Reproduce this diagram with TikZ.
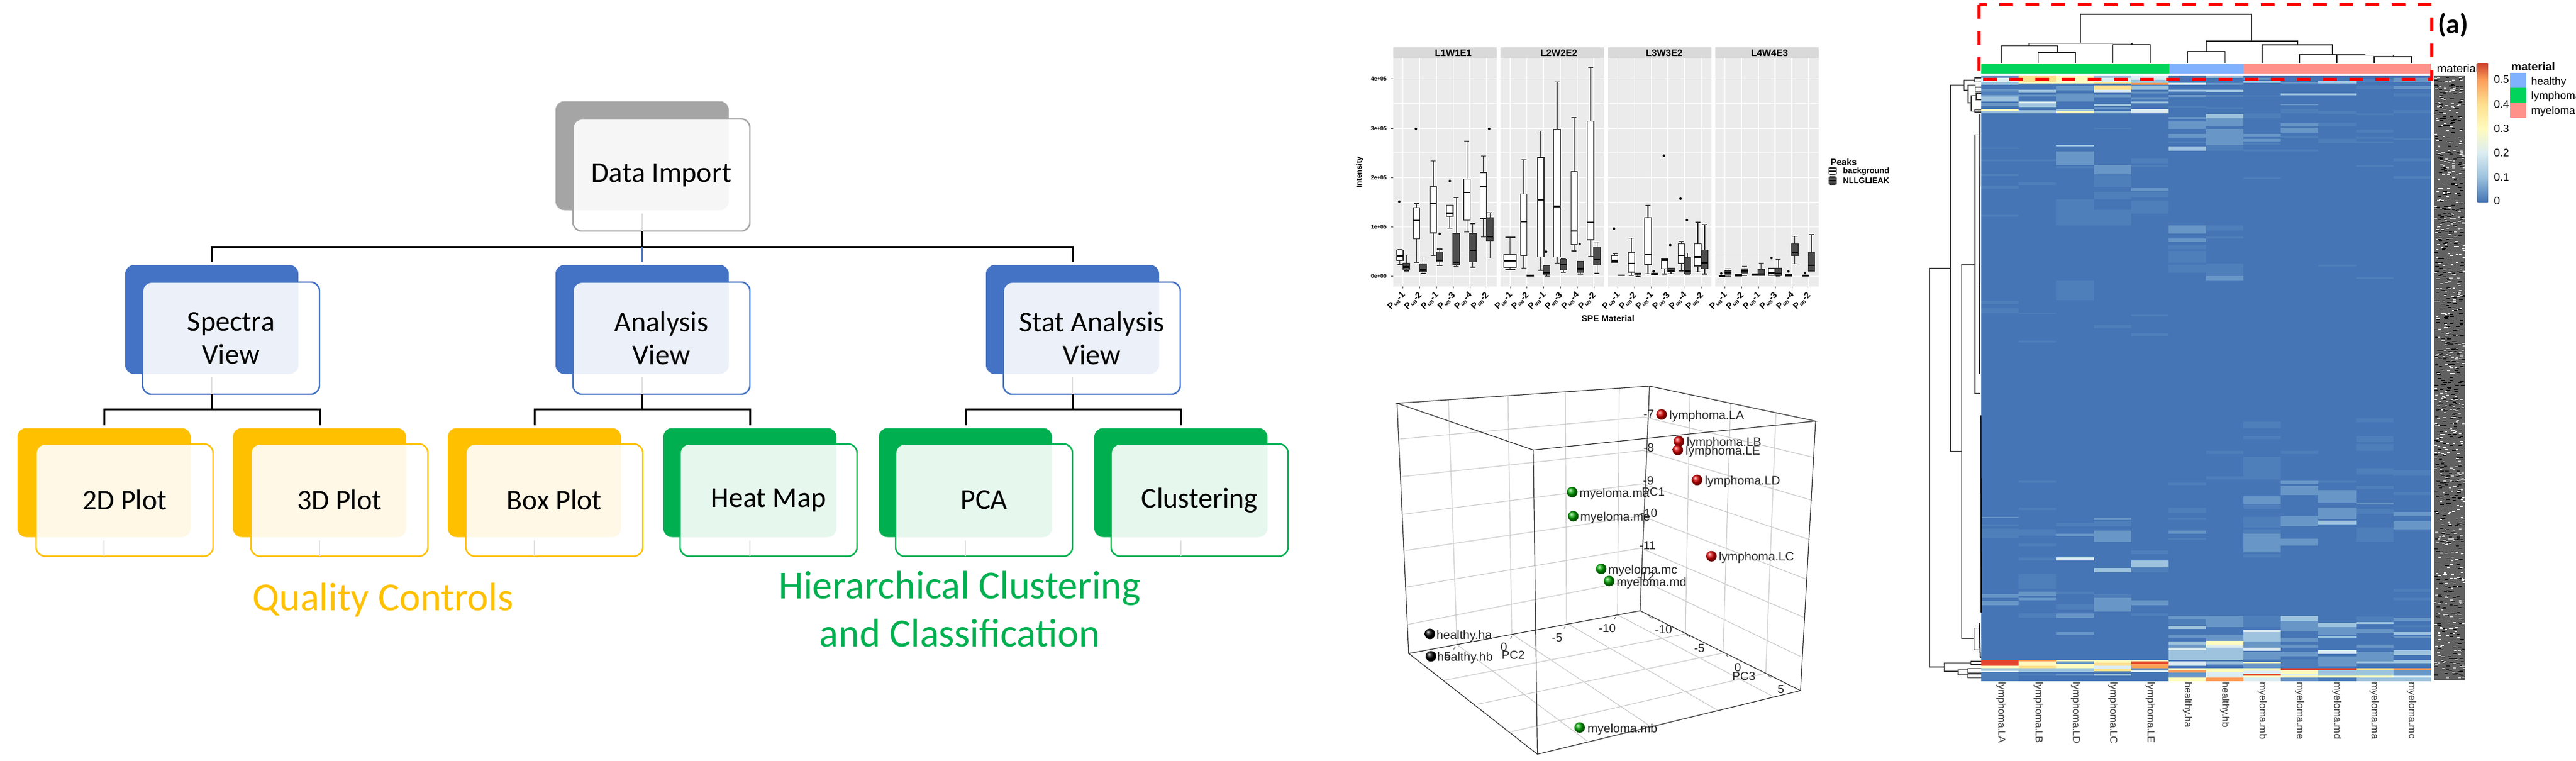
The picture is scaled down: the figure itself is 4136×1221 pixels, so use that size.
\documentclass[tikz,border=0pt]{standalone}
\usepackage{fontspec}
\setmainfont{Carlito}
\newfontfamily\plotfont{Liberation Sans}
\usetikzlibrary{calc,positioning}

\definecolor{boxgrey}{HTML}{A5A5A5}
\definecolor{boxblue}{HTML}{4472C4}
\definecolor{boxgold}{HTML}{FFC000}
\definecolor{boxgreen}{HTML}{00B050}
\definecolor{panelgrey}{HTML}{EBEBEB}
\definecolor{stripgrey}{HTML}{D9D9D9}
\definecolor{darkbox}{HTML}{4D4D4D}
\definecolor{hz}{HTML}{4575B5}
\definecolor{ha}{HTML}{4F7FBA}
\definecolor{hb}{HTML}{6896C6}
\definecolor{hc}{HTML}{9DC3DE}
\definecolor{hd}{HTML}{DCEDF2}
\definecolor{he}{HTML}{FFFBBE}
\definecolor{hf}{HTML}{FEE08F}
\definecolor{hg}{HTML}{FC9D59}
\definecolor{hh}{HTML}{E4452F}
\definecolor{barblue}{HTML}{80B1FF}
\definecolor{bargreen}{HTML}{00D45A}
\definecolor{barred}{HTML}{FF918A}

\tikzset{
    backbox/.style={rectangle, rounded corners=7pt, minimum width=139pt, minimum height=87.5pt, inner sep=0pt, outer sep=0pt},
    frontbox/.style={rectangle, rounded corners=7pt, minimum width=142pt, minimum height=90pt, inner sep=0pt, outer sep=0pt,
        draw=#1, line width=1.2pt, fill=white, fill opacity=.9, text opacity=1, align=center, text=black,
        font=\fontsize{23}{26.5}\selectfont},
    wire/.style={line width=1.5pt, black},
    innerstem/.style={line width=1pt, black!12},
    whitepeak/.style={fill=white},
    darkpeak/.style={fill=darkbox},
    ploty/.style={font=\plotfont\bfseries\fontsize{4.5}{5}\selectfont, anchor=east},
    plotx/.style={font=\plotfont\bfseries\fontsize{7}{8}\selectfont, rotate=45, anchor=east},
    strip/.style={font=\plotfont\bfseries\fontsize{7.6}{8}\selectfont},
    sphere/.style={circle, minimum size=8.5pt, inner sep=0pt},
    ptlabel/.style={font=\plotfont\fontsize{9.8}{10}\selectfont, text=black!85, anchor=west, inner sep=0pt},
    axlabel/.style={font=\plotfont\fontsize{9.5}{10}\selectfont, text=black!85},
    heatcol/.style={font=\plotfont\fontsize{8}{9}\selectfont, text=black!80, rotate=-90, anchor=west, inner sep=0pt},
    keylabel/.style={font=\plotfont\fontsize{8.7}{9}\selectfont, anchor=west}
}

% one box of the box plots: style, half width, x, whisker top, box top, median, box bottom, whisker bottom
\newcommand{\peakbox}[8]{
    \draw[line width=.6pt, black!80] (#3-#2*.8,#4) -- (#3+#2*.8,#4) (#3,#4) -- (#3,#5) (#3,#7) -- (#3,#8) (#3-#2*.8,#8) -- (#3+#2*.8,#8);
    \draw[#1, line width=.6pt, draw=black!80] (#3-#2,#5) rectangle (#3+#2,#7);
    \draw[line width=1.1pt, black] (#3-#2,#6) -- (#3+#2,#6);
}

\begin{document}
\begin{tikzpicture}[x=.5pt, y=-.5pt]
    \useasboundingbox (0, 0) rectangle (4136, 1221);

    % workflow tree
    \foreach \n/\bx/\by/\fx/\fy/\col/\txt in {
        di/1031/250/1062/281/boxgrey/{Data Import},
        sp/340/513/371/543/boxblue/{Spectra\\View},
        an/1031/513/1062/543/boxblue/{Analysis\\View},
        st/1722/513/1753/543/boxblue/{Stat Analysis\\View},
        pb/167/775/200/803/boxgold/{2D Plot},
        pc/513/775/545/803/boxgold/{3D Plot},
        pd/858/775/890/803/boxgold/{Box Plot},
        hm/1204/775/1234/803/boxgreen/{Heat Map},
        pa/1550/775/1580/803/boxgreen/{PCA},
        cl/1896/775/1926/803/boxgreen/{Clustering}}{
        \node[backbox, fill=\col] (\n b) at (\bx, \by) {};
        \node[frontbox=\col] (\n) at (\fx, \fy) {\txt};
        \draw[innerstem, shorten <=2.5pt] (\n b.south) -- (\n b.south |- \n.south);
    }

    \coordinate (bus0) at (1031, 396);
    \coordinate (bus1) at (340, 657);
    \coordinate (bus2) at (1031, 657);
    \coordinate (bus3) at (1722, 657);
    \draw[wire] (dib.south |- di.south) -- (bus0);
    \draw[wire, shorten >=2.5pt] (bus0) -| (spb.north);
    \draw[wire, shorten >=2.5pt] (bus0) -| (stb.north);
    \draw[line width=1.1pt, boxblue, shorten >=2.5pt] (bus0) -- (anb.north);
    \draw[wire] (spb.south |- sp.south) -- (bus1);
    \draw[wire] (anb.south |- an.south) -- (bus2);
    \draw[wire] (stb.south |- st.south) -- (bus3);
    \draw[wire, shorten >=2.5pt] (bus1) -| (pbb.north);
    \draw[wire, shorten >=2.5pt] (bus1) -| (pcb.north);
    \draw[wire, shorten >=2.5pt] (bus2) -| (pdb.north);
    \draw[wire, shorten >=2.5pt] (bus2) -| (hmb.north);
    \draw[wire, shorten >=2.5pt] (bus3) -| (pab.north);
    \draw[wire, shorten >=2.5pt] (bus3) -| (clb.north);

    \node[text=boxgold, font=\fontsize{32}{38.5}\selectfont] (qc) at (615, 963) {Quality Controls};
    \node[text=boxgreen, align=center, font=\fontsize{32}{38.5}\selectfont] (hc) at (1541, 978) {Hierarchical Clustering\\and Classification};

    % box plots
    \begin{scope}[shift={(2120, 50)}, x=.303pt, y=-.1667pt]
        \foreach \pa/\pb/\sx/\lab in {193/467/352/L1W1E1, 477/751/632/L2W2E2, 762/1036/911/L3W3E2, 1046/1320/1190/L4W4E3}{
            \fill[stripgrey] (\pa, 78) rectangle (\pb, 128);
            \fill[panelgrey] (\pa, 128) rectangle (\pb, 1230);
            \foreach \gy in {349, 587, 824, 1062}{
                \draw[white, line width=.3pt] (\pa, \gy) -- (\pb, \gy);
            }
            \foreach \gy in {230, 468, 705, 943, 1180}{
                \draw[white, line width=.7pt] (\pa, \gy) -- (\pb, \gy);
            }
            \foreach \k in {0, ..., 5}{
                \draw[white, line width=.7pt] ({\pa+26+44.3*\k}, 128) -- ({\pa+26+44.3*\k}, 1230);
                \draw[line width=.3pt, black!70] ({\pa+26+44.3*\k}, 1230) -- ({\pa+26+44.3*\k}, 1238);
            }
            \node[strip] (s\lab) at (\sx, 106) {\lab};
        }
        \foreach \lab/\gy in {4e+05/230, 3e+05/468, 2e+05/705, 1e+05/943, 0e+00/1180}{
            \draw[line width=.3pt, black!70] (187, \gy) -- (193, \gy);
            \node[ploty] (y\lab) at (187, \gy) {\lab};
        }
        \foreach \pa in {193, 477, 762, 1046}{
            \foreach \k/\t in {0/1, 1/2, 2/1, 3/3, 4/4, 5/2}{
                \node[plotx] at ({\pa+36+44.3*\k}, 1250) {P\raisebox{-1pt}{\fontsize{3.5}{4}\selectfont MB}-\t};
            }
        }
        \node[font=\plotfont\bfseries\fontsize{6}{7}\selectfont, rotate=90] (ytitle) at (104, 680) {Intensity};
        \node[font=\plotfont\bfseries\fontsize{7}{8}\selectfont] (xtitle) at (762, 1385) {SPE Material};

        % background peak
        \foreach \xa/\ya/\yb/\yc/\yd/\ye in {
            211/1052/1054/1081/1105/1125, 255/831/851/911/1000/1115, 299/625/748/831/972/1080,
            343/838/838/877/893/950, 388/530/713/776/911/967, 432/601/681/750/903/992,
            539/620/785/917/1082/1142, 584/482/609/813/1088/1152, 627/244/472/844/1088/1117,
            672/415/676/962/1027/1059, 716/176/434/921/1005/1085,
            780/1073/1080/1105/1113/1113, 824/997/1067/1119/1161/1178, 868/840/898/1077/1125/1168,
            912/1098/1098/1102/1145/1170, 956/1012/1024/1079/1119/1155, 1000/921/1024/1087/1131/1160,
            1064/1180/1180/1180/1180/1180, 1108/1176/1173/1176/1179/1176, 1152/1172/1168/1172/1178/1178,
            1196/1142/1143/1165/1176/1178, 1240/1176/1173/1176/1179/1176, 1285/1178/1175/1178/1181/1178}{
            \peakbox{whitepeak}{8.5}{\xa}{\ya}{\yb}{\yc}{\yd}{\ye}
        }
        \peakbox{whitepeak}{16.5}{503}{993}{1075}{1107}{1138}{1149}
        % NLLGLIEAK peak
        \foreach \xa/\ya/\yb/\yc/\yd/\ye in {
            228/1079/1118/1135/1148/1155, 272/1087/1122/1150/1160/1167, 316/1050/1063/1103/1108/1130,
            360/803/975/1113/1125/1132, 404/927/975/1055/1112/1137, 449/875/900/990/1008/1093,
            556/1178/1176/1178/1180/1178, 600/1130/1130/1163/1172/1180, 644/1098/1100/1124/1150/1162,
            689/1108/1110/1144/1163/1170, 733/1016/1040/1100/1127/1167,
            797/1176/1174/1176/1178/1176, 841/1166/1166/1170/1172/1182, 885/1166/1166/1170/1173/1173,
            929/1142/1143/1155/1160/1168, 973/1069/1091/1156/1168/1170, 1018/932/1055/1116/1145/1170,
            1080/1145/1155/1163/1170/1180, 1124/1133/1146/1155/1165/1177, 1168/1118/1148/1170/1178/1178,
            1213/1100/1143/1167/1178/1180, 1257/988/1025/1067/1080/1120, 1301/980/1068/1127/1155/1155}{
            \peakbox{darkpeak}{8.5}{\xa}{\ya}{\yb}{\yc}{\yd}{\ye}
        }
        \foreach \xa/\ya in {
            209/821, 253/470, 343/721, 316/976, 447/470, 598/1062, 687/1025, 778/951,
            910/600, 927/1030, 954/807, 971/910, 883/1157, 1062/1167, 1195/1093, 1240/1157, 1284/1165}{
            \fill[black] (\xa, \ya) circle[radius=1pt];
        }

        \node[font=\plotfont\bfseries\fontsize{7.3}{8}\selectfont, anchor=west] (keytitle) at (1340, 630) {Peaks};
        \peakbox{whitepeak}{10}{1357}{655}{660}{675}{688}{693}
        \peakbox{darkpeak}{10}{1357}{702}{707}{720}{735}{740}
        \node[font=\plotfont\bfseries\fontsize{6.5}{7}\selectfont, anchor=west] (keyb) at (1373, 675) {background};
        \node[font=\plotfont\bfseries\fontsize{6.5}{7}\selectfont, anchor=west] (keyn) at (1373, 720) {NLLGLIEAK};
    \end{scope}

    % 3D PCA cube
    \begin{scope}[shift={(2100, 620)}, x=.303pt, y=-.1913pt]
        \foreach \xa/\ya/\xb/\yb in {
            244/222/890/130, 248/380/888/270, 252/538/886/410, 258/690/884/545, 262/843/882/680, 266/1000/880/810,
            372/55/395/1085, 530/40/540/1040, 682/22/685/995, 825/8/820/960,
            890/130/1342/300, 888/270/1337/480, 886/410/1330/645, 884/545/1320/810, 882/680/1313/970, 880/810/1305/1135,
            1012/35/1000/1040, 1120/70/1100/1120, 1240/110/1213/1205,
            1000/1040/360/1235, 1100/1120/450/1335, 1213/1205/540/1450,
            395/1085/740/1490, 540/1040/905/1425, 685/995/1085/1360, 820/960/1235/1305}{
            \draw[black!20, line width=.6pt] (\xa, \ya) -- (\xb, \yb);
        }
        \coordinate (c1) at (236, 72);
        \coordinate (c2) at (905, 0);
        \coordinate (c3) at (1345, 147);
        \coordinate (c4) at (597, 268);
        \coordinate (c5) at (267, 1122);
        \coordinate (c6) at (880, 943);
        \coordinate (c7) at (1305, 1278);
        \coordinate (c8) at (608, 1545);
        \draw[black!80, line width=.6pt]
        (c1) -- (c2) -- (c3) -- (c4) -- cycle
        (c1) -- (c5) (c2) -- (c6) (c3) -- (c7) (c4) -- (c8)
        (c5) -- (c6) -- (c7) -- (c8) -- cycle;

        \foreach \xa/\ya/\xb/\yb in {
            815/970/811/980, 682/1008/678/1018, 540/1050/536/1060, 390/1095/386/1105,
            905/968/912/976, 1005/1045/1012/1053, 1107/1128/1114/1136, 1220/1215/1227/1223}{
            \draw[black!70, line width=.4pt] (\xa, \ya) -- (\xb, \yb);
        }
        \foreach \tx/\ty/\lab in {
            903/118/-7, 903/258/-8, 902/398/-9, 915/443/PC1, 903/533/-10, 900/668/-11, 895/800/-12,
            793/1017/-10, 660/1055/-5, 519/1096/0, 544/1130/PC2, 370/1135/5,
            942/1023/-10, 1037/1100/-5, 1139/1180/0, 1155/1217/PC3, 1253/1272/5}{
            \node[axlabel] at (\tx, \ty) {\lab};
        }

        \foreach \n/\tx/\ty/\lx/\ly/\col/\lab in {
            la/937/119/957/127/red!85!black/lymphoma.LA,
            lb/983/232/1003/238/red!85!black/lymphoma.LB,
            le/980/268/1000/275/red!85!black/lymphoma.LE,
            ld/1031/394/1051/400/red!85!black/lymphoma.LD,
            lc/1069/714/1088/721/red!85!black/lymphoma.LC,
            ma/700/445/719/454/green!65!black/myeloma.ma,
            me/703/546/721/553/green!65!black/myeloma.me,
            mc/777/767/795/776/green!65!black/myeloma.mc,
            md/798/818/817/826/green!65!black/myeloma.md,
            mb/720/1433/740/1440/green!65!black/myeloma.mb,
            ha/323/1040/340/1048/black/healthy.ha,
            hb/326/1134/342/1141/black/healthy.hb}{
            \node[sphere, ball color=\col] (pt\n) at (\tx, \ty) {};
            \node[ptlabel] (lab\n) at (\lx, \ly) {\lab};
        }
    \end{scope}

    % heat map
    \begin{scope}[shift={(3080, 0)}, x=.3367pt, y=-.1667pt]
        \fill[hz] (150, 365) rectangle (1222, 3280);
        \foreach \c/\ya/\yb/\col in {
            1/365/375/hb,1/375/395/hd,1/395/408/hc,1/430/440/hb,1/440/452/ha,1/455/465/hb,1/465/490/hc,1/495/510/hb,1/525/535/he,1/535/547/hc,
            2/365/395/hf,2/395/402/he,2/432/448/hc,2/455/465/hb,2/490/498/hd,2/498/515/hc,2/530/547/hc,
            3/365/395/he,3/395/402/he,3/415/435/hb,3/450/490/hb,3/525/533/hc,3/533/547/he,
            4/365/375/hc,4/375/395/hd,4/395/402/hf,4/410/432/hf,4/432/448/hd,4/455/470/hb,4/500/510/hc,4/515/525/hb,4/533/547/hc,
            5/365/385/hd,5/385/400/hc,5/400/408/hg,5/410/432/hc,5/440/450/hb,5/470/480/hb,5/490/498/hc,5/525/547/hd,
            6/365/375/ha,6/395/400/hb,6/400/408/hd,6/433/440/hc,6/458/466/hc,6/510/520/ha,
            7/365/375/hc,7/400/408/hb,7/433/443/hc,7/460/466/hb,7/515/525/ha,
            8/375/385/hb,8/390/400/hc,8/458/466/ha,8/545/570/ha,
            9/395/402/hb,9/450/458/hc,9/500/506/hb,9/525/545/ha,
            10/390/402/hc,10/450/458/hc,10/535/548/ha,
            11/380/395/ha,11/410/430/ha,11/545/555/ha,
            12/375/395/hb,12/415/430/hb,12/450/465/ha,12/530/545/ha,
            6/565/572/hb,6/585/620/hb,6/645/662/hb,6/680/690/ha,6/705/725/hc,
            7/550/570/hc,7/570/610/hb,7/620/700/hb,7/700/725/ha,
            8/645/660/hb,8/670/680/hb,8/690/700/ha,8/720/728/ha,8/855/862/ha,
            9/595/610/hb,9/615/640/hb,9/655/665/ha,9/720/728/ha,
            10/590/610/ha,10/670/690/ha,
            11/625/640/ha,11/660/670/ha,11/680/690/ha,11/795/803/ha,
            12/665/675/ha,12/765/778/ha,12/850/860/ha,
            3/698/706/hc,3/730/795/hb,3/800/810/ha,3/960/1085/ha,
            4/615/622/ha,4/795/840/hb,4/845/900/ha,4/925/960/ha,4/1010/1085/ha,
            5/765/785/ha,5/795/805/ha,5/905/920/hb,5/925/950/ha,5/965/1030/ha,
            1/710/718/ha,1/768/778/ha,1/838/850/ha,1/895/910/ha,1/1035/1045/ha,
            2/768/778/ha,2/880/892/ha,
            6/1085/1125/hb,6/1150/1165/hb,6/1180/1200/ha,6/1210/1265/ha,6/1275/1315/ha,
            7/1085/1110/ha,7/1140/1150/ha,7/1270/1325/ha,7/1330/1350/hb,
            10/1275/1285/ha,11/1335/1345/ha,3/1350/1445/ha,
            1/1450/1465/ha,1/1485/1510/ha,2/1505/1512/ha,5/1515/1525/ha,4/1565/1580/ha,5/1605/1620/ha,2/1640/1650/ha,
            11/2015/2035/ha,11/2100/2130/ha,11/2140/2170/ha,
            8/2030/2065/ha,8/2100/2115/ha,8/2200/2310/ha,8/2390/2425/hb,8/2430/2450/ha,8/2490/2540/ha,8/2550/2605/ha,8/2605/2640/hb,
            7/2170/2185/ha,7/2295/2310/ha,
            9/2170/2185/ha,9/2315/2330/hb,9/2340/2385/hb,9/2485/2535/hb,9/2595/2628/hb,
            10/2315/2325/ha,10/2360/2420/hb,10/2445/2500/hb,10/2508/2525/hc,
            11/2255/2285/ha,11/2340/2355/ha,11/2420/2430/hb,11/2450/2475/ha,11/2540/2610/ha,
            12/2265/2290/ha,12/2370/2385/ha,12/2465/2485/hb,12/2510/2550/hb,
            6/2325/2335/ha,6/2445/2470/ha,6/2495/2505/ha,6/2555/2570/hb,6/2590/2600/ha,
            2/2315/2325/ha,2/2445/2455/ha,2/2550/2580/ha,2/2620/2630/ha,
            1/2488/2495/hb,1/2525/2535/ha,1/2545/2590/ha,
            3/2570/2582/hb,3/2520/2535/ha,
            4/2495/2503/hb,4/2510/2535/ha,4/2555/2610/hb,
            8/2570/2660/hb,8/2670/2685/ha,
            3/2685/2698/hd,3/2850/2860/ha,3/2910/2935/ha,3/2955/2975/hb,3/3045/3055/hb,
            5/2650/2668/ha,5/2700/2732/hc,5/2732/2755/ha,5/2955/2965/ha,
            4/2735/2755/hc,4/2860/2872/ha,4/2880/2945/hb,
            2/2618/2628/ha,2/2685/2700/ha,2/2765/2835/ha,2/2850/2870/hb,2/2880/2892/hb,2/2955/2975/ha,
            1/2860/2880/hb,1/2895/2915/hb,5/2890/2915/hb,
            12/2835/2850/ha,12/2880/2890/ha,9/2610/2628/hb,
            6/2965/2980/hb,6/2980/3010/ha,6/3015/3030/hc,6/3055/3070/hb,6/3090/3105/hc,6/3105/3120/hb,6/3120/3130/hd,6/3130/3180/hc,6/3185/3205/hd,6/3205/3218/ha,
            7/2965/3020/hb,7/3055/3085/hb,7/3085/3105/he,7/3105/3120/hd,7/3120/3180/hc,7/3185/3200/hc,
            8/2965/3020/ha,8/3033/3045/hd,8/3045/3090/hc,8/3090/3120/hb,8/3120/3135/hd,8/3140/3175/hb,8/3187/3195/he,8/3195/3218/hb,
            9/2965/2990/hc,9/2990/3040/hb,9/3070/3090/hb,9/3105/3120/hb,9/3140/3160/hb,9/3175/3215/ha,
            10/3000/3020/hc,10/3020/3060/hb,10/3065/3072/hc,10/3130/3148/hd,10/3160/3210/hb,
            11/2970/2995/ha,11/2995/3005/hc,11/3030/3050/hb,11/3105/3120/hb,11/3140/3190/hb,11/3185/3195/hc,
            12/2975/2990/hb,12/3010/3020/ha,12/3045/3055/hc,12/3065/3075/hb,12/3130/3155/hc,12/3180/3195/hc,
            1/3178/3205/hh,1/3205/3218/he,1/3218/3230/hc,1/3230/3235/hd,1/3235/3280/ha,
            2/3178/3185/hg,2/3185/3205/he,2/3205/3218/hf,2/3218/3235/hc,2/3245/3255/ha,
            3/3178/3185/he,3/3185/3198/hb,3/3198/3218/he,3/3218/3235/hc,3/3245/3255/hb,
            4/3178/3190/he,4/3190/3205/hf,4/3205/3220/hd,4/3220/3232/hf,4/3245/3253/hc,
            5/3178/3185/he,5/3185/3198/hh,5/3198/3218/hg,5/3218/3228/hb,5/3228/3235/hd,
            6/3210/3218/ha,6/3218/3228/he,6/3228/3238/hg,6/3238/3262/hb,6/3262/3280/he,
            7/3218/3235/he,7/3235/3262/hd,7/3262/3280/hg,
            8/3218/3230/he,8/3230/3245/hd,8/3245/3255/hh,8/3255/3262/he,8/3262/3280/hd,
            9/3218/3228/hh,9/3228/3245/he,9/3245/3255/hd,9/3255/3262/he,9/3262/3280/hb,
            10/3218/3228/hh,10/3228/3255/hc,10/3255/3262/he,10/3262/3280/ha,
            11/3218/3228/hf,11/3228/3255/hc,11/3255/3262/he,11/3262/3280/hc,
            12/3218/3228/hg,12/3228/3255/hb,12/3255/3262/hd,12/3262/3280/hc}{
            \fill[\col] ({150+(\c-1)*89.33}, \ya) rectangle ({150+\c*89.33}, \yb);
        }

        % sample bar
        \fill[bargreen] (150, 307) rectangle (598, 355);
        \fill[barblue] (598, 307) rectangle (775, 355);
        \fill[barred] (775, 307) rectangle (1222, 355);

        % sample tree
        \foreach \xa/\ya/\xb/\yb/\ym in {
            286/303/375/303/252, 197/303/331/252/221, 464/303/553/303/214, 264/221/509/214/208,
            642/303/731/303/247, 1087/303/1176/303/273, 998/303/1132/273/266, 909/303/1065/266/262,
            820/303/987/262/216, 687/247/904/216/198, 387/208/795/198/69}{
            \draw[black!85, line width=.8pt] (\xa, \ya) -- (\xa, \ym) -- (\xb, \ym) -- (\xb, \yb);
        }

        % peptide tree
        \foreach \xm/\xa/\ya/\xb/\yb in {
            27/77/1293/62/3212, 77/110/410/103/2175, 103/135/1273/133/3075, 62/125/3193/95/3233,
            95/118/3225/118/3250, 125/150/3185/150/3200, 118/150/3220/150/3240, 118/150/3245/150/3265,
            109/134/385/119/435, 134/150/375/150/395, 119/136/410/126/495, 136/150/420/150/440,
            126/138/460/134/535, 138/150/450/150/480, 134/150/530/150/540,
            135/147/650/147/1895, 133/147/3025/145/3130}{
            \draw[black!75, line width=.7pt] (\xa, \ya) -- (\xm, \ya) -- (\xm, \yb) -- (\xb, \yb);
        }
        \draw[black, line width=.9pt] (147, 550) -- (146, 1800) (149, 2000) -- (150, 2950) (145, 3000) -- (148, 3170);

        % peptide names, too dense to read
        \fill[black!62] (1230, 365) rectangle (1304, 3275);
        \pgfmathsetseed{11}
        \foreach \i in {1, ..., 600}{
            \pgfmathsetmacro\ax{1230+rnd*68}
            \pgfmathsetmacro\ay{365+rnd*2900}
            \fill[white] (\ax, \ay) rectangle (\ax+6, \ay+3);
            \pgfmathsetmacro\ax{1230+rnd*66}
            \pgfmathsetmacro\ay{365+rnd*2900}
            \fill[black] (\ax, \ay) rectangle (\ax+8, \ay+3);
        }

        \foreach \c/\lab in {197/lymphoma.LA, 286/lymphoma.LB, 375/lymphoma.LD, 464/lymphoma.LC, 553/lymphoma.LE, 642/healthy.ha, 731/healthy.hb, 820/myeloma.mb, 909/myeloma.me, 998/myeloma.md, 1087/myeloma.ma, 1176/myeloma.mc}{
            \node[heatcol] at (\c, 3285) {\lab};
        }

        \node[font=\plotfont\fontsize{9.4}{10}\selectfont, anchor=west] (matl) at (1226, 330) {material};

        % colour bar
        \shade[bottom color=hz, top color=hc] (1333, 972) rectangle (1358, 853);
        \shade[bottom color=hc, top color=hd] (1333, 853) rectangle (1358, 735);
        \shade[bottom color=hd, top color=he] (1333, 735) rectangle (1358, 620);
        \shade[bottom color=he, top color=hf] (1333, 620) rectangle (1358, 503);
        \shade[bottom color=hf, top color=hg] (1333, 503) rectangle (1358, 383);
        \shade[bottom color=hg, top color=hh!90!black] (1333, 383) rectangle (1358, 303);
        \foreach \gy/\lab in {383/0.5, 503/0.4, 620/0.3, 735/0.2, 853/0.1, 968/0}{
            \node[keylabel] at (1362, \gy) {\lab};
        }

        % legend
        \node[font=\plotfont\bfseries\fontsize{9.2}{10}\selectfont, anchor=west] (legt) at (1403, 322) {material};
        \fill[barblue] (1410, 352) rectangle (1450, 423);
        \fill[bargreen] (1410, 423) rectangle (1450, 495);
        \fill[barred] (1410, 495) rectangle (1450, 568);
        \node[keylabel] (legh) at (1451, 395) {healthy};
        \node[keylabel] (legl) at (1451, 465) {lymphoma};
        \node[keylabel] (legm) at (1451, 537) {myeloma};

        \node[font=\bfseries\fontsize{22}{24}\selectfont] (tag) at (1275, 120) {(a)};

        % highlighted tree
        \draw[red, line width=2.7pt, dash pattern=on 11pt off 10pt] (145, 23) rectangle (1224, 382);
    \end{scope}
\end{tikzpicture}
\end{document}
